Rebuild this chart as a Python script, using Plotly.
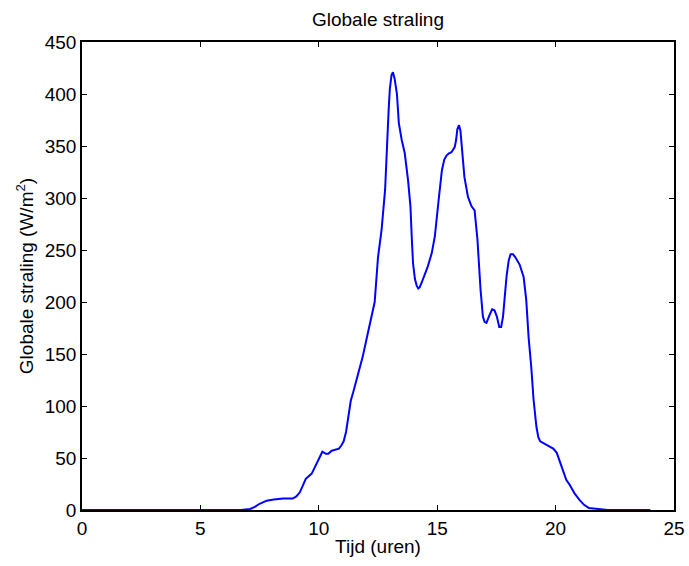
import plotly.graph_objects as go

tijd = [0, 6.7, 7.1, 7.3, 7.5, 7.8, 8.1, 8.5, 8.9, 9.05, 9.2, 9.35, 9.45, 9.7, 9.85, 10.0,
        10.15, 10.3, 10.4, 10.55, 10.7, 10.85, 10.95, 11.05, 11.15, 11.25, 11.35, 11.45,
        11.65, 11.85, 12.07, 12.2, 12.36, 12.5, 12.65, 12.8, 12.88, 12.95, 13.0, 13.07,
        13.13, 13.2, 13.3, 13.38, 13.5, 13.63, 13.77, 13.87, 13.93, 13.98, 14.06, 14.13,
        14.2, 14.26, 14.35, 14.47, 14.6, 14.77, 14.9, 15.06, 15.2, 15.3, 15.4, 15.5, 15.6,
        15.74, 15.8, 15.85, 15.92, 15.98, 16.05, 16.15, 16.3, 16.45, 16.58, 16.7, 16.83,
        16.93, 17.0, 17.08, 17.2, 17.32, 17.42, 17.52, 17.62, 17.7, 17.78, 17.85, 17.93,
        18.02, 18.1, 18.2, 18.3, 18.48, 18.65, 18.76, 18.86, 18.97, 19.07, 19.19, 19.27,
        19.35, 19.5, 19.7, 19.9, 20.05, 20.15, 20.3, 20.45, 20.6, 20.8, 21.0, 21.2, 21.4,
        21.7, 22.2, 24.0]
straling = [0, 0, 1, 3, 6, 9, 10, 11, 11, 13, 17, 25, 30, 35, 42, 50,
            56, 54, 54, 57, 58, 59, 62, 66, 75, 92, 105, 113,
            130, 147, 170, 183, 200, 243, 269, 308, 356, 385, 405, 418,
            421, 415, 400, 372, 356, 343, 317, 292, 260, 237, 222, 216,
            213, 214, 219, 226, 234, 247, 263, 298, 327, 337, 341, 343, 344,
            349, 356, 366, 370, 365, 346, 320, 301, 292, 288, 260, 212,
            186, 181, 180, 187, 193, 192, 186, 176, 176, 186, 205, 225,
            240, 246, 246, 243, 236, 224, 202, 166, 138, 106, 80, 70,
            66, 64, 62, 59, 55, 48, 38, 29, 24, 16, 10, 5, 2,
            1, 0, 0]

x_ticks = [0, 5, 10, 15, 20, 25]
y_ticks = [0, 50, 100, 150, 200, 250, 300, 350, 400, 450]

font = "Liberation Sans, Arial, sans-serif"

fig = go.Figure(go.Scatter(x=tijd, y=straling, mode="lines",
                           line=dict(color="#0000ff", width=2)))

axis_common = dict(showline=True, linecolor="black", linewidth=1.5, mirror="ticks",
                   ticks="inside", ticklen=5, tickcolor="black", showgrid=False,
                   zeroline=False, automargin=False,
                   tickfont=dict(size=19, color="black", family=font))

fig.update_layout(
    width=689, height=566,
    margin=dict(l=82, r=15, t=42, b=56),
    paper_bgcolor="white", plot_bgcolor="white",
    showlegend=False,
    font=dict(family=font, size=19, color="black"),
    title=dict(text="Globale straling", x=(82 + 674) / 2 / 689, xanchor="center",
               y=1 - 19 / 566, yanchor="middle", font=dict(size=19)),
    xaxis=dict(range=[0, 25], tickvals=x_ticks,
               title=dict(text="Tijd (uren)", font=dict(size=19), standoff=2), **axis_common),
    yaxis=dict(range=[0, 450], tickvals=y_ticks,
               title=dict(text="Globale straling (W/m<sup>2</sup>)", font=dict(size=19), standoff=6),
               **axis_common),
)

fig.write_html("out.html")
